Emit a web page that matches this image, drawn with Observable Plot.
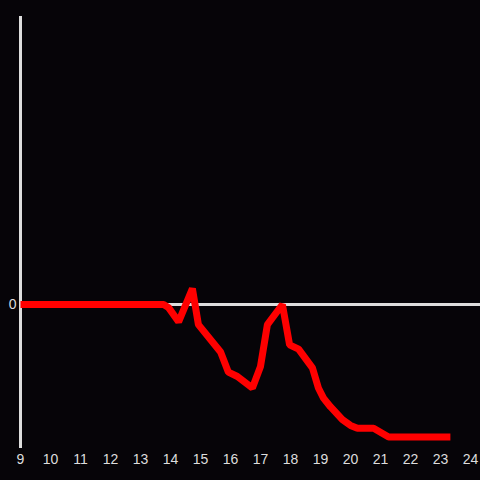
<!DOCTYPE html>
<html><head><meta charset="utf-8">
<script src="https://cdn.jsdelivr.net/npm/d3@7"></script>
<script src="https://cdn.jsdelivr.net/npm/@observablehq/plot@0.6"></script>
<style>
html,body{margin:0;padding:0;background:#060408;}
svg text{font-size:14px !important;font-family:"Liberation Sans",Arial,sans-serif !important;}
</style>
</head><body>
<div id="chart"></div>
<script>
const hours = [9, 10, 11, 12, 13, 13.77, 13.93, 14.27, 14.73, 14.93, 15.67, 15.93, 16.23, 16.73, 17.0, 17.23, 17.73, 17.97, 18.27, 18.73, 18.93, 19.1, 19.33, 19.73, 20.0, 20.23, 20.77, 21.27, 23.33];
const values = [0, 0, 0, 0, 0, 0, -0.02, -0.12, 0.11, -0.14, -0.33, -0.47, -0.5, -0.58, -0.43, -0.14, 0, -0.28, -0.31, -0.44, -0.58, -0.65, -0.71, -0.8, -0.84, -0.86, -0.86, -0.92, -0.92];
const xTicks = [9,10,11,12,13,14,15,16,17,18,19,20,21,22,23,24];
const yTicks = [0];

const data = hours.map((h, i) => ({hour: h, value: values[i]}));

const chart = Plot.plot({
  width: 480,
  height: 480,
  marginLeft: 20,
  marginRight: 10,
  marginTop: 16,
  marginBottom: 32,
  style: {background: "#060408", color: "#dddddd"},
  x: {domain: [9, 24], label: null},
  y: {domain: [-1, 2], label: null},
  marks: [
    Plot.axisX({ticks: xTicks, tickSize: 0, tickPadding: 6, fontSize: 14, tickFormat: d => String(d), label: null}),
    Plot.axisY({ticks: yTicks, tickSize: 0, tickPadding: 4, fontSize: 14, tickFormat: d => String(d), label: null}),
    Plot.ruleY([0], {x1: 9, x2: 24.34, stroke: "#dddddd", strokeWidth: 3}),
    Plot.ruleX([9], {stroke: "#dddddd", strokeWidth: 3}),
    Plot.line(data, {x: "hour", y: "value", stroke: "#ff0000", strokeWidth: 7, strokeLinejoin: "miter", strokeLinecap: "butt"})
  ]
});
document.getElementById("chart").appendChild(chart);
</script>
</body></html>
